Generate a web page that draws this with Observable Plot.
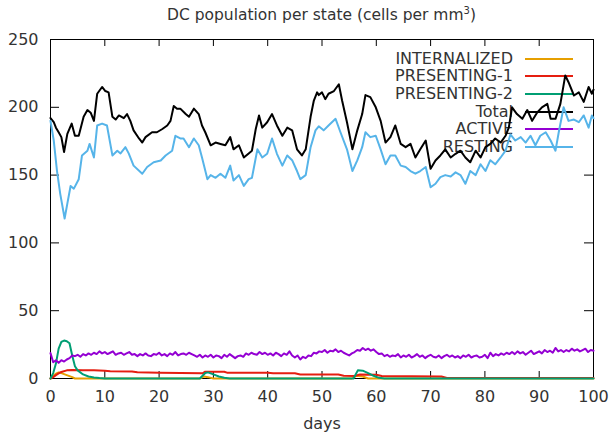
<!DOCTYPE html>
<html>
<head>
<meta charset="utf-8">
<script src="https://cdn.jsdelivr.net/npm/d3@7"></script>
<script src="https://cdn.jsdelivr.net/npm/@observablehq/plot@0.6"></script>
<style>
  body { margin: 0; background: #fff; font-family: "DejaVu Sans", sans-serif; }
  #wrap { position: relative; width: 611px; height: 434px; overflow: hidden; }
  #title { position: absolute; left: 0; width: 643px; top: 6px; text-align: center; font-size: 15.5px; color: #333; }
  #title sup { font-size: 10px; vertical-align: 6px; line-height: 0; }
  #legend { position: absolute; left: 0; top: 0; width: 611px; height: 434px; z-index: 0; }
  #legend .lab { position: absolute; right: 98px; font-size: 16px; color: #333; line-height: 18px; white-space: nowrap; }
  #legend .key { position: absolute; left: 525px; width: 48px; height: 2px; }
  #chart { position: absolute; left: 0; top: 0; z-index: 1; }
</style>
</head>
<body>
<div id="wrap">
  <div id="title">DC population per state (cells per mm<sup>3</sup>)</div>
  <div id="legend"></div>
  <div id="chart"></div>
</div>
<script>
// Series names, in plotting order, with their colours
const seriesNames = ["INTERNALIZED", "PRESENTING-1", "PRESENTING-2", "Total", "ACTIVE", "RESTING"];
const seriesColors = ["#e69f00", "#e51e10", "#009e73", "#000000", "#9400d3", "#56b4e9"];

// Axis ticks
const xTicks = [0, 10, 20, 30, 40, 50, 60, 70, 80, 90, 100];
const yTicks = [0, 50, 100, 150, 200, 250];

// [day, cells per mm3]
const internalized = [[0,0],[0.5,2],[1,3.5],[1.5,4.5],[2,4],[3,2.5],[4,1],[4.5,0],[27.5,0],[28.3,1.5],[29,1],[30,0],
  [55.5,0],[56.3,2],[57.5,1.5],[58.5,0],[100,0]];

const presenting1 = [[0,0],[0.5,1],[1,2.5],[1.5,3.8],[2,4.8],[3,6],[4,6.2],[6,6],[8,6],[10,5.8],[11,5.4],[15,5.2],
  [16,4.6],[20,4.3],[24,4],[28,3.8],[28.5,5],[32,5],[32.5,4.3],[40,4.2],[41,3.8],[45,3.8],[46,3],[53,3],[54,2],
  [56,1.8],[57,3],[60,2.8],[61,1.8],[72,1.5],[73,0.4],[100,0.3]];

const presenting2 = [[0,0],[0.5,4],[1,11],[1.5,22],[2,27],[2.5,28],[3,27.5],[3.5,26],[4,17],[4.5,9],[5,6],[6,3],
  [7,1.5],[8,0.8],[9,0.3],[10,0],[27.5,0],[28.5,4],[29,4.5],[30,3],[31,1.5],[32,0.5],[33,0],[55.8,0],[56.6,6],
  [57.5,5.8],[58.5,4],[59.5,2],[60.5,0.5],[61.5,0],[100,0]];

const total = [[0,192],[0.6,189],[1,185],[1.5,181.6],[2,178],[2.5,167],[3.1,180.4],[3.9,188],[4.5,179],[5.2,179],
  [6.1,193],[6.8,198],[7.4,196],[8,190],[8.6,210],[9.5,215],[10.1,212],[10.7,211],[11.4,193],[12,191],[12.6,194],
  [13.5,192],[14.1,195],[14.7,190],[15.3,183],[16.3,177],[16.9,174],[17.5,178],[18.7,181.6],[19.6,181.6],[20.6,184],
  [21.5,186.6],[22.1,190],[22.7,201],[23.3,199],[23.9,199],[24.9,195],[25.5,193],[26.4,199],[27.3,195],[27.9,186.6],
  [28.5,181.6],[29.5,172],[30.4,174],[31.3,173],[32.2,172],[33.1,178],[33.7,169],[34.7,172],[35.6,163],[36.5,166],
  [37.1,168],[37.8,184],[38.4,194],[39,185],[39.9,189],[40.8,195],[41.7,186.6],[42.7,179],[43.6,185],[44.5,183],
  [45.4,169],[46.3,164.5],[47,169],[47.9,193],[48.5,205],[49.1,211],[49.4,209],[50,211],[50.6,206],[51.2,210],
  [52.2,212],[53.1,217],[53.7,205],[54.6,189],[55.6,169],[56.5,183],[57.4,195],[58,209],[58.9,207.5],[59.9,200],
  [60.8,190],[61.7,174],[62.6,178],[63.5,186.6],[64.5,173],[65.4,170.6],[66.3,173],[67.2,163],[68.1,169],[69.1,175.5],
  [70,154.6],[70.9,160.8],[71.8,164.5],[72.7,169],[73.7,163],[74.6,165.7],[75.5,168],[76.4,163],[77.3,159.5],
  [78.3,168],[79.2,163],[80.1,170.6],[81,173],[81.9,177],[82.9,174],[83.8,179],[84.4,185],[85,200],[85.9,195],
  [86.9,191.5],[87.8,198],[88.7,190],[89.6,196],[90.5,200],[91.5,202.5],[92.1,191.5],[93,191.5],[93.9,202.5],
  [94.8,223.5],[95.4,218.5],[96.4,208.7],[97.3,211],[98.2,204],[99.1,215],[99.7,210],[100,213]];

// ACTIVE sampled every half day from day 0 to day 100
const activeStep = 0.5;
const active = [18.7,12,13.5,11.5,13.5,12.5,14,15,17,16.5,
  17.5,16,18,17,18.5,17.5,19,18,20,18.5,
  19.5,18,19,20,17.5,18.5,19,17.5,18.5,19.5,
  17.5,18,16.5,18,17,18.5,17,16.5,18,17.5,
  19,17,18,16.5,18.5,17.5,19.5,17,18,18.5,
  17.5,19,18,17,16,17.5,15.5,17,16,17.5,
  15.5,17,16.5,15,17.5,16,18,16.5,15,16.5,
  17,16,18.5,17.5,19,18,17.5,19.5,18,19,
  17.5,18.5,17,19,18,16.5,18.5,17.5,20,17,
  15.5,17,14,16,15,17,16.5,19,18.5,20,
  19.5,21,19,20.5,20,21.5,19.5,20.5,19,18,
  17,18.5,19.5,21,20.5,22.5,21,22,20.5,21.5,
  19.5,18,18.5,16.5,17.5,16,17,16.5,18,15.5,
  17,16,17.5,15.5,16.5,18,16,17,15,16.5,
  17.5,16,15.5,17,15,16.5,17.5,16,17,15.5,
  16.5,15,17,16,17.5,15.5,16.5,17,15.5,16,
  17.5,15,19,16.5,18,17,18.5,17.5,19,18,
  19.5,18,20,18.5,19.5,17.5,19,20.5,18,19,
  20,18.5,21,19.5,20.5,19,22.5,20,21,19.5,
  21,20,22,20.5,21.5,20,21,22,19.5,21,
  20.5];

const resting = [[0,190],[0.6,175.5],[1.2,153],[1.8,136],[2.6,118],[3.1,129],[3.7,142],[4.3,140],[5.2,147],[5.8,164.5],
  [6.8,168],[7.2,173],[8,163],[8.6,186.6],[9.5,188],[10.4,186.6],[11.4,164.5],[12.3,168],[12.9,166],[13.8,170.6],
  [14.4,166],[15.3,157],[16.9,151],[17.8,156],[19,159.5],[20.3,160.8],[21.2,164.5],[22.4,168],[23,179],[23.9,177],
  [24.5,177],[25.5,170.6],[26.4,177],[27.3,172],[27.9,163],[28.9,147],[29.5,150],[30.4,148],[31.3,151],[32.2,148],
  [33.1,157],[33.7,146],[34.7,150],[35.6,142],[36.5,147],[37.1,148],[38.1,169],[39,163],[39.9,165.7],[40.8,177],
  [41.7,165.7],[42.7,157],[43.6,164.5],[44.5,161],[45.4,153],[46,147],[47,150],[47.9,170.6],[48.8,183],[49.4,186],
  [50.3,183],[51.2,186.6],[52.5,191.5],[53.4,181.6],[54.6,169],[55.6,153],[56.5,160.8],[57.4,170.6],[58,181.6],
  [58.9,178],[59.9,179],[60.8,169],[61.7,158],[62.6,164.5],[63.5,164.5],[64.5,157],[65.4,156],[66.3,153],[67.2,151],
  [68.1,153],[69.1,156],[70,141],[70.9,143.6],[71.8,148.5],[72.7,150],[73.7,149],[74.6,152],[75.5,150],[76.4,143.6],
  [77.3,153],[78.3,150],[79.2,158],[80.1,153],[81,161],[81.9,158],[82.9,163],[83.8,168],[84.7,180],[85.6,175.5],
  [86.6,178],[87.5,174],[88.4,179],[89.3,172],[90.2,179],[91.2,181.6],[92.1,175.5],[93,168],[93.6,181.6],[94.5,200],
  [95.4,190],[96.4,191],[97.3,189],[98.2,194],[99.1,185],[99.7,194],[100,192]];

const activeSeries = active.map((v, i) => [i * activeStep, v]);
const seriesData = [internalized, presenting1, presenting2, total, activeSeries, resting];

// Key: labels right-aligned, sample strokes to their right; sits under the plotted lines
const legend = document.getElementById("legend");
seriesNames.forEach((name, i) => {
  const cy = 58.5 + i * 17.7;
  const lab = document.createElement("div");
  lab.className = "lab";
  lab.style.top = (cy - 9) + "px";
  lab.textContent = name;
  legend.appendChild(lab);
  const key = document.createElement("div");
  key.className = "key";
  key.style.top = (cy - 1) + "px";
  key.style.background = seriesColors[i];
  legend.appendChild(key);
});

const W = 611, H = 434, mL = 50, mR = 18, mT = 39, mB = 56;
const fw = W - mL - mR, fh = H - mT - mB;
const xy = {x: d => d[0], y: d => d[1]};

const chart = Plot.plot({
  width: W,
  height: H,
  marginLeft: mL,
  marginRight: mR,
  marginTop: mT,
  marginBottom: mB,
  style: {background: "transparent", fontFamily: "DejaVu Sans, sans-serif", fontSize: "16px", color: "#333"},
  x: {domain: [0, 100]},
  y: {domain: [0, 250]},
  marks: [
    Plot.frame({stroke: "#000", strokeWidth: 1}),
    // inward ticks on all four sides
    Plot.tickX(xTicks, {x: d => d, stroke: "#000", insetTop: fh - 7}),
    Plot.tickX(xTicks, {x: d => d, stroke: "#000", insetBottom: fh - 7}),
    Plot.tickY(yTicks, {y: d => d, stroke: "#000", insetRight: fw - 9}),
    Plot.tickY(yTicks, {y: d => d, stroke: "#000", insetLeft: fw - 9}),
    ...seriesData.map((data, i) =>
      Plot.line(data, {...xy, stroke: seriesColors[i], strokeWidth: 2, strokeLinejoin: "round"})),
    Plot.axisX({ticks: xTicks, tickSize: 0, tickPadding: 12, fill: "#333", label: "days",
      labelAnchor: "center", labelArrow: "none", labelOffset: 50}),
    Plot.axisY({ticks: yTicks, tickSize: 0, tickPadding: 12, fill: "#333", label: null})
  ]
});
document.getElementById("chart").appendChild(chart);
</script>
</body>
</html>
